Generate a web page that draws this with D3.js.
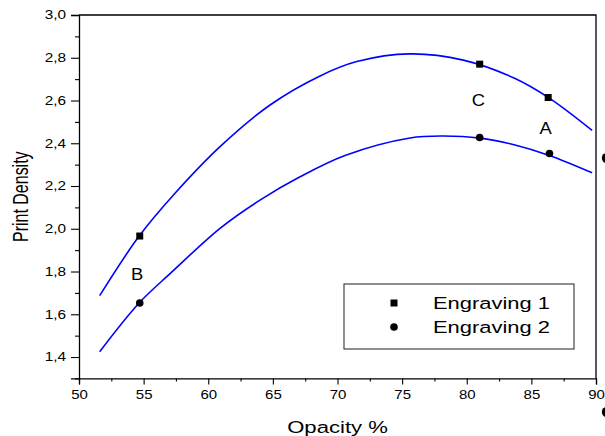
<!DOCTYPE html>
<html>
<head>
<meta charset="utf-8">
<script src="https://cdn.jsdelivr.net/npm/d3@7"></script>
<style>
  body { margin: 0; background: #fff; }
  text { font-family: Arial, "Liberation Sans", sans-serif; fill: #000; }
</style>
</head>
<body>
<svg id="chart" width="605" height="436"></svg>
<script>
// Axis ticks
const xTicks = [50, 55, 60, 65, 70, 75, 80, 85, 90];
const xMinorTicks = [52.5, 57.5, 62.5, 67.5, 72.5, 77.5, 82.5, 87.5];
const yTicks = [1.4, 1.6, 1.8, 2.0, 2.2, 2.4, 2.6, 2.8, 3.0];
const yMinorTicks = [1.3, 1.5, 1.7, 1.9, 2.1, 2.3, 2.5, 2.7, 2.9];

// Measured samples (opacity %, print density)
const engraving1 = [[54.7, 1.966], [81.0, 2.77], [86.3, 2.614]];
const engraving2 = [[54.7, 1.653], [81.0, 2.427], [86.4, 2.352]];

// Fitted curves
const fit1 = [[51.6, 1.687], [54.67, 1.967], [57.43, 2.166], [60.91, 2.384], [64.78, 2.579],
              [68.65, 2.715], [71.49, 2.782], [75.61, 2.818], [79.73, 2.789], [83.66, 2.705],
              [86.44, 2.609], [89.7, 2.46]];
const fit2 = [[51.6, 1.425], [54.67, 1.654], [57.17, 1.797], [60.91, 2.002], [64.0, 2.134],
              [67.1, 2.243], [70.58, 2.343], [75.61, 2.425], [78.19, 2.434], [81.02, 2.424],
              [83.66, 2.393], [86.44, 2.342], [89.7, 2.262]];

// Point annotations
const annotations = [["B", 54.5, 1.788], ["C", 80.9, 2.602], ["A", 86.1, 2.471]];

// Stray markers beyond the right frame
const strayMarks = [[90.85, 2.331], [90.85, 1.143]];

const seriesNames = ["Engraving 1", "Engraving 2"];

const W = 605, H = 436;
const margin = { left: 79, right: 9, top: 15, bottom: 57.6 };
const stretch = 1.28; // glyphs are drawn horizontally widened

const svg = d3.select("#chart");
const x = d3.scaleLinear().domain([50, 90]).range([margin.left, W - margin.right]);
const y = d3.scaleLinear().domain([1.3, 3.0]).range([H - margin.bottom, margin.top]);

const x0 = x.range()[0], x1 = x.range()[1];
const y0 = y.range()[0], y1 = y.range()[1];

// Frame (top and right sides)
svg.append("path")
  .attr("d", `M${x0},${y1}H${x1}V${y0}`)
  .attr("fill", "none").attr("stroke", "#000").attr("stroke-width", 1.3);

// Bottom axis
const fmtX = d3.format("d");
const gx = svg.append("g").attr("transform", `translate(0,${y0})`)
  .call(d3.axisBottom(x).tickValues(xTicks).tickSize(6).tickPadding(6).tickFormat(fmtX));
svg.append("g").attr("transform", `translate(0,${y0})`)
  .call(d3.axisBottom(x).tickValues(xMinorTicks).tickSize(3).tickFormat(""))
  .call(g => g.select(".domain").remove());

// Left axis
const fmtY = d => d.toFixed(1).replace(".", ",");
const gy = svg.append("g").attr("transform", `translate(${x0},0)`)
  .call(d3.axisLeft(y).tickValues(yTicks).tickSize(8).tickPadding(5).tickFormat(fmtY));
svg.append("g").attr("transform", `translate(${x0},0)`)
  .call(d3.axisLeft(y).tickValues(yMinorTicks).tickSize(4).tickFormat(""))
  .call(g => g.select(".domain").remove());

svg.selectAll(".domain").attr("stroke-width", 1.3);
svg.selectAll(".tick line").attr("stroke-width", 1.1);

gx.selectAll("text")
  .attr("font-size", 12.5)
  .attr("font-family", "Arial, 'Liberation Sans', sans-serif")
  .attr("transform", `scale(1.2,1)`);
gy.selectAll("text")
  .attr("font-size", 12)
  .attr("font-family", "Arial, 'Liberation Sans', sans-serif")
  .attr("x", -13 / stretch)
  .attr("transform", `scale(${stretch},1)`);

// Axis titles
svg.append("text")
  .attr("transform", `translate(${(x0 + x1) / 2},${H - 3}) scale(1.3,1)`)
  .attr("text-anchor", "middle")
  .attr("font-size", 17)
  .text("Opacity %");
svg.append("text")
  .attr("transform", `translate(28,${(y0 + y1) / 2}) scale(1.38,1) rotate(-90)`)
  .attr("text-anchor", "middle")
  .attr("font-size", 16)
  .text("Print Density");

// Fitted curves
const line = d3.line().x(d => x(d[0])).y(d => y(d[1])).curve(d3.curveCatmullRom.alpha(0.5));
[fit1, fit2].forEach(f => {
  svg.append("path").datum(f)
    .attr("d", line)
    .attr("fill", "none")
    .attr("stroke", "#0000ff")
    .attr("stroke-width", 1.6);
});

// Markers
const sq = 7;
svg.append("g").selectAll("rect").data(engraving1).join("rect")
  .attr("x", d => x(d[0]) - sq / 2).attr("y", d => y(d[1]) - sq / 2)
  .attr("width", sq).attr("height", sq).attr("fill", "#000");
svg.append("g").selectAll("circle").data(engraving2).join("circle")
  .attr("cx", d => x(d[0])).attr("cy", d => y(d[1])).attr("r", 3.8).attr("fill", "#000");

svg.append("g").selectAll("circle").data(strayMarks).join("circle")
  .attr("cx", d => x(d[0])).attr("cy", d => y(d[1])).attr("r", 5.2).attr("fill", "#000");

// Annotation letters
svg.append("g").selectAll("text").data(annotations).join("text")
  .attr("transform", d => `translate(${x(d[1])},${y(d[2]) + 6}) scale(1.15,1)`)
  .attr("text-anchor", "middle")
  .attr("font-size", 16)
  .text(d => d[0]);

// Legend
const lg = svg.append("g").attr("transform", "translate(344,284)");
lg.append("rect").attr("width", 230).attr("height", 65)
  .attr("fill", "#fff").attr("stroke", "#333").attr("stroke-width", 1.1);
seriesNames.forEach((name, i) => {
  const cy = 19 + i * 24;
  if (i === 0) {
    lg.append("rect").attr("x", 50 - sq / 2).attr("y", cy - sq / 2)
      .attr("width", sq).attr("height", sq).attr("fill", "#000");
  } else {
    lg.append("circle").attr("cx", 50).attr("cy", cy).attr("r", 3.8).attr("fill", "#000");
  }
  lg.append("text")
    .attr("transform", `translate(89,${cy + 6}) scale(1.29,1)`)
    .attr("font-size", 17)
    .text(name);
});
</script>
</body>
</html>
